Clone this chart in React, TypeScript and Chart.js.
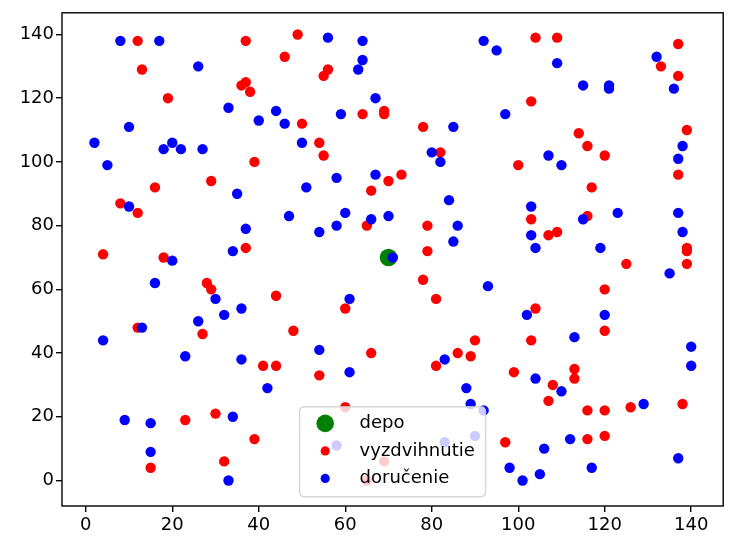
import React, { useEffect, useRef } from "react";
import { Chart, registerables } from "chart.js";

Chart.register(...registerables);

// ---- data ----
const seriesLabels = ["depo", "vyzdvihnutie", "doručenie"];

const depotX = [70];
const depotY = [70];

const pickupX = [
  12, 37, 46, 13, 36, 37, 38, 19, 49, 56, 55, 64, 69, 69, 50, 78, 104, 109, 103, 114,
  137, 133, 137, 139, 39, 29, 16, 8, 12, 37, 4, 18, 54, 55, 82, 73, 70, 66, 65, 79,
  79, 116, 120, 100, 137, 117, 103, 116, 107, 109, 139, 139, 125, 139, 28, 29, 44, 12, 27, 41,
  44, 78, 81, 60, 48, 66, 90, 86, 89, 81, 54, 120, 104, 120, 103, 113, 113, 99, 108, 107,
  116, 120, 126, 138, 97, 116, 120, 23, 30, 39, 15, 32, 60, 69, 65,
];
const pickupY = [
  138, 138, 133, 129, 124, 125, 122, 120, 140, 129, 127, 115, 116, 115, 112, 111, 139, 139, 119, 109,
  137, 130, 127, 110, 100, 94, 92, 87, 84, 73, 71, 70, 106, 102, 103, 96, 94, 91, 80, 80,
  72, 105, 102, 99, 96, 92, 82, 83, 77, 78, 73, 72, 68, 68, 62, 60, 58, 48, 46, 36,
  36, 63, 57, 54, 47, 40, 44, 40, 39, 36, 33, 60, 54, 47, 44, 35, 32, 34, 30, 25,
  22, 22, 23, 24, 12, 13, 14, 19, 21, 13, 4, 6, 23, 6, 0,
];

const deliveryX = [
  8, 17, 26, 33, 44, 40, 46, 10, 56, 64, 64, 63, 67, 59, 85, 92, 95, 97, 109, 115,
  121, 121, 132, 136, 2, 20, 18, 22, 27, 5, 35, 10, 47, 37, 34, 20, 50, 80, 82, 58,
  67, 51, 84, 60, 70, 58, 66, 54, 86, 85, 71, 138, 137, 107, 110, 103, 123, 137, 115, 138,
  103, 104, 119, 16, 30, 36, 32, 26, 13, 4, 23, 36, 42, 93, 61, 54, 83, 61, 88, 135,
  102, 120, 113, 140, 140, 104, 110, 129, 112, 106, 137, 98, 117, 105, 101, 9, 15, 34, 15, 33,
  89, 92, 58, 83, 90,
];
const deliveryY = [
  138, 138, 130, 117, 116, 113, 112, 111, 139, 138, 132, 129, 120, 115, 111, 138, 135, 115, 131, 124,
  124, 123, 133, 123, 106, 106, 104, 104, 104, 99, 90, 86, 83, 79, 72, 69, 106, 103, 100, 95,
  96, 92, 88, 84, 83, 80, 82, 78, 80, 75, 70, 105, 101, 102, 99, 86, 84, 84, 82, 78,
  77, 73, 73, 62, 57, 54, 52, 50, 48, 44, 39, 38, 29, 61, 57, 41, 38, 34, 29, 65,
  52, 52, 45, 42, 36, 32, 28, 24, 13, 10, 7, 4, 4, 2, 0, 19, 18, 20, 9, 0,
  24, 22, 11, 12, 14,
];

const xTickValues = [0, 20, 40, 60, 80, 100, 120, 140];
const yTickValues = [0, 20, 40, 60, 80, 100, 120, 140];

const toPoints = (xs: number[], ys: number[]) => xs.map((x, i) => ({ x, y: ys[i] }));

const FONT = "DejaVu Sans";

const framePlugin = {
  id: "mplFrame",
  afterDatasetsDraw(chart: any) {
    const { ctx, chartArea } = chart;
    ctx.save();
    ctx.strokeStyle = "#000";
    ctx.lineWidth = 1.4;
    ctx.strokeRect(chartArea.left, chartArea.top, chartArea.right - chartArea.left, chartArea.bottom - chartArea.top);
    ctx.restore();
  },
};

const legendPlugin = {
  id: "mplLegend",
  afterDraw(chart: any) {
    const { ctx, chartArea } = chart;
    const w = 186;
    const h = 90;
    const cx = (chartArea.left + chartArea.right) / 2;
    const x0 = cx - w / 2;
    const y0 = chartArea.bottom - 9.3 - h;
    const r = 5;
    ctx.save();
    ctx.globalAlpha = 0.8;
    ctx.beginPath();
    ctx.moveTo(x0 + r, y0);
    ctx.lineTo(x0 + w - r, y0);
    ctx.quadraticCurveTo(x0 + w, y0, x0 + w, y0 + r);
    ctx.lineTo(x0 + w, y0 + h - r);
    ctx.quadraticCurveTo(x0 + w, y0 + h, x0 + w - r, y0 + h);
    ctx.lineTo(x0 + r, y0 + h);
    ctx.quadraticCurveTo(x0, y0 + h, x0, y0 + h - r);
    ctx.lineTo(x0, y0 + r);
    ctx.quadraticCurveTo(x0, y0, x0 + r, y0);
    ctx.closePath();
    ctx.fillStyle = "#ffffff";
    ctx.fill();
    ctx.strokeStyle = "#cccccc";
    ctx.lineWidth = 1.4;
    ctx.stroke();
    ctx.globalAlpha = 1;

    const rows = [16.7, 44.2, 71.7];
    const radii = [8.8, 4.6, 4.6];
    const datasets = chart.data.datasets;
    datasets.forEach((ds: any, i: number) => {
      const my = y0 + rows[i];
      ctx.beginPath();
      ctx.arc(x0 + 25.6, my, radii[i], 0, Math.PI * 2);
      ctx.fillStyle = ds.backgroundColor;
      ctx.fill();
      ctx.fillStyle = "#000";
      ctx.font = `18px "${FONT}"`;
      ctx.textBaseline = "middle";
      ctx.textAlign = "left";
      ctx.fillText(ds.label, x0 + 60, my);
    });
    ctx.restore();
  },
};

export default function App() {
  const canvasRef = useRef<HTMLCanvasElement | null>(null);

  useEffect(() => {
    if (!canvasRef.current) return;
    const chart = new Chart(canvasRef.current, {
      type: "scatter",
      data: {
        datasets: [
          {
            label: seriesLabels[0],
            data: toPoints(depotX, depotY),
            backgroundColor: "#008000",
            pointRadius: 8.8,
            pointBorderWidth: 0,
            borderWidth: 0,
            order: 2,
          },
          {
            label: seriesLabels[1],
            data: toPoints(pickupX, pickupY),
            backgroundColor: "#ff0000",
            pointRadius: 5.2,
            pointBorderWidth: 0,
            borderWidth: 0,
            order: 1,
          },
          {
            label: seriesLabels[2],
            data: toPoints(deliveryX, deliveryY),
            backgroundColor: "#0000ff",
            pointRadius: 5.2,
            pointBorderWidth: 0,
            borderWidth: 0,
            order: 0,
          },
        ],
      },
      options: {
        animation: false,
        responsive: true,
        maintainAspectRatio: false,
        layout: { padding: { top: 8, right: 3, left: 0, bottom: 0 } },
        plugins: {
          legend: { display: false },
          tooltip: { enabled: false },
        },
        scales: {
          x: {
            type: "linear",
            min: -5.5,
            max: 147.4,
            afterFit: (s: any) => {
              s.height = 35;
            },
            afterBuildTicks: (s: any) => {
              s.ticks = xTickValues.map((v) => ({ value: v }));
            },
            border: { display: false },
            grid: {
              drawOnChartArea: false,
              drawTicks: true,
              tickLength: 6,
              lineWidth: 1.4,
              color: "#000",
            },
            ticks: {
              color: "#000",
              font: { family: FONT, size: 18 },
              padding: 3,
              maxRotation: 0,
              autoSkip: false,
            },
          },
          y: {
            type: "linear",
            min: -8,
            max: 146.8,
            afterFit: (s: any) => {
              s.width = 62;
            },
            afterBuildTicks: (s: any) => {
              s.ticks = yTickValues.map((v) => ({ value: v }));
            },
            border: { display: false },
            grid: {
              drawOnChartArea: false,
              drawTicks: true,
              tickLength: 6,
              lineWidth: 1.4,
              color: "#000",
            },
            ticks: {
              color: "#000",
              font: { family: FONT, size: 18 },
              padding: 2,
              autoSkip: false,
            },
          },
        },
      },
      plugins: [framePlugin, legendPlugin],
    });
    return () => chart.destroy();
  }, []);

  return (
    <div style={{ position: "absolute", left: 0, top: 0, width: 732, height: 541, background: "#fff" }}>
      <canvas ref={canvasRef} />
    </div>
  );
}
